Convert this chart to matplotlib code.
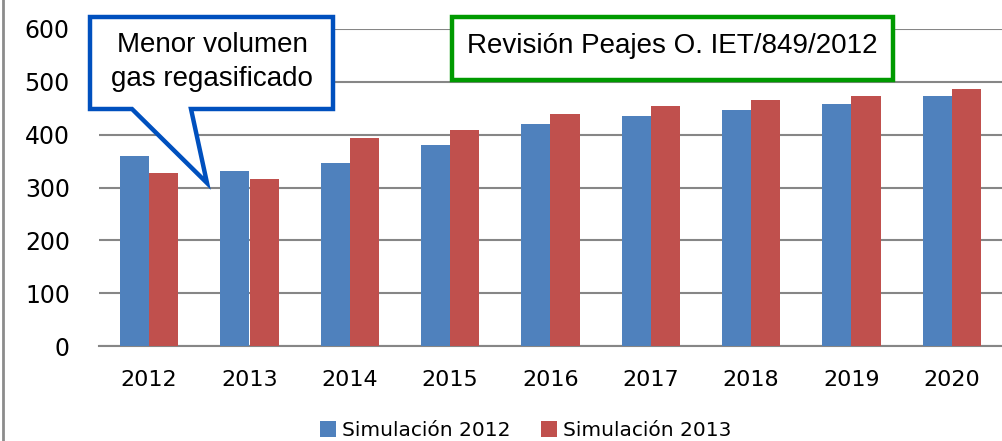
import numpy as np
import matplotlib
matplotlib.use("Agg")
import matplotlib.pyplot as plt
from matplotlib.patches import Polygon, FancyBboxPatch
from matplotlib.lines import Line2D

# data
years = ["2012", "2013", "2014", "2015", "2016", "2017", "2018", "2019", "2020"]
sim_2012 = [359, 331, 346, 381, 420, 435, 447, 458, 474]
sim_2013 = [327, 316, 393, 408, 439, 455, 466, 474, 486]
series_names = ["Simulación 2012", "Simulación 2013"]
y_ticks = [0, 100, 200, 300, 400, 500, 600]

BLUE = "#4F81BD"
RED = "#C0504D"
GRID = "#868686"

W, H = 1002, 441
fig = plt.figure(figsize=(W / 100, H / 100), dpi=100)


def fx(px):
    return px / W


def fy(py):
    return 1 - py / H


ax = fig.add_axes([fx(99), fy(346), 1 - fx(99), fy(29) - fy(346)])

x = np.arange(len(years))
bw = 0.29
ax.bar(x - bw / 2, sim_2012, bw, color=BLUE, label=series_names[0], zorder=3)
ax.bar(x + bw / 2, sim_2013, bw, color=RED, label=series_names[1], zorder=3)

ax.set_xlim(-0.5, len(years) - 0.5)
ax.set_ylim(0, 600)
ax.set_yticks(y_ticks)
ax.set_xticks(x)
ax.set_xticklabels(years)
ax.yaxis.grid(True, color=GRID, lw=1.5, zorder=0)
ax.set_axisbelow(True)
for s in ["top", "left", "right"]:
    ax.spines[s].set_visible(False)
ax.spines["bottom"].set_color(GRID)
ax.spines["bottom"].set_linewidth(1.5)
ax.tick_params(axis="both", length=0, labelsize=16, colors="black")
ax.tick_params(axis="y", labelsize=17, pad=21)
ax.tick_params(axis="x", pad=17)

# legend at the bottom
fig.legend(loc="center", bbox_to_anchor=(fx(526), fy(430.5)), ncol=2, frameon=False,
           fontsize=14.5, handlelength=0.8, handleheight=0.8, handletextpad=0.3,
           columnspacing=1.5, borderaxespad=0)

# left border of the chart area
fig.add_artist(Line2D([fx(2.5), fx(2.5)], [0, 1], color="#8C8C8C", lw=2))

# blue callout
pts = [(90, 17), (333, 17), (333, 109), (191, 109), (207, 183), (132, 109), (90, 109)]
callout = Polygon([(fx(a), fy(b)) for a, b in pts], closed=True, transform=fig.transFigure,
                  facecolor="white", edgecolor="#0050BE", lw=3.2, joinstyle="miter", zorder=10)
fig.add_artist(callout)
fig.text(fx(212), fy(62), "Menor volumen\ngas regasificado", ha="center", va="center",
         fontsize=20, family="Liberation Sans", linespacing=1.45, zorder=11)

# green box
green = FancyBboxPatch((fx(452), fy(80)), fx(893) - fx(452), fy(17) - fy(80),
                       boxstyle="square,pad=0", transform=fig.transFigure,
                       facecolor="white", edgecolor="#009A00", lw=3.2, zorder=10)
fig.add_artist(green)
fig.text(fx(672), fy(46), "Revisión Peajes O. IET/849/2012", ha="center", va="center",
         fontsize=20, family="Liberation Sans", zorder=11)

fig.savefig("out.png", dpi=100)
